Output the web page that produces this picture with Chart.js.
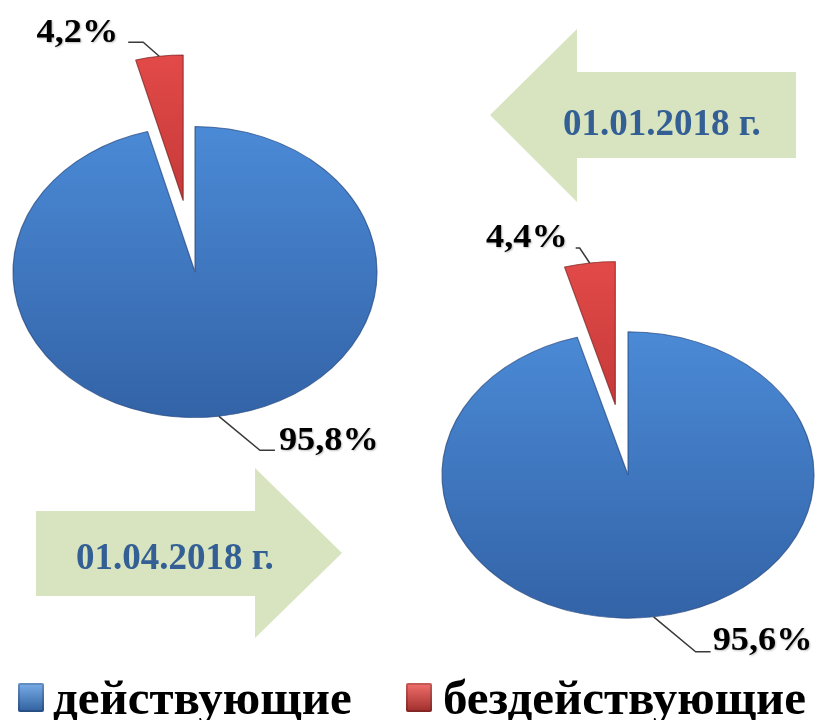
<!DOCTYPE html>
<html><head><meta charset="utf-8">
<script src="https://cdn.jsdelivr.net/npm/chart.js@4.4.0/dist/chart.umd.min.js"></script>
<style>
html,body{margin:0;padding:0;background:#fff}
body{width:818px;height:720px;position:relative;overflow:hidden;font-family:"Liberation Serif","Times New Roman",serif}
canvas.pie{position:absolute;left:0;top:0}
.atext{position:absolute;font-weight:bold;font-size:37px;line-height:1;color:#335f95;white-space:nowrap}
.leg{position:absolute;font-weight:bold;font-size:49px;line-height:1;color:#000;white-space:nowrap}
.sq{position:absolute;width:26px;height:29px;border-radius:2px;box-shadow:inset 0 0 0 2px rgba(0,0,0,0.18)}
</style></head><body>
<svg width="818" height="720" style="position:absolute;left:0;top:0">
  <polygon points="490,115 577,29 577,72 796,72 796,158 577,158 577,202" fill="#d8e4bf"/>
  <polygon points="36,511 255,511 255,468 342,553 255,638 255,596 36,596" fill="#d8e4bf"/>
</svg>
<canvas id="c1" class="pie" width="818" height="720"></canvas>
<canvas id="c2" class="pie" width="818" height="720"></canvas>
<div id="t1" class="atext" style="left:563px;top:104px"></div>
<div id="t2" class="atext" style="left:76px;top:538px"></div>
<div id="legend"></div>
<script>
// ---- data ----
const categories = ['действующие', 'бездействующие'];
const dates = ['01.01.2018 г.', '01.04.2018 г.'];
const valuesJan = [95.8, 4.2];
const valuesApr = [95.6, 4.4];

// ---- styles ----
const blueStops = ['#4b8ad6', '#3363a7'];
const redStops = ['#e24a48', '#a82a2a'];

document.getElementById('t1').textContent = dates[0];
document.getElementById('t2').textContent = dates[1];

// legend
const leg = document.getElementById('legend');
const legPos = [{sq:18, tx:53}, {sq:406, tx:443}];
const sqGrad = ['linear-gradient(#7aaeea,#2f5f9e)', 'linear-gradient(#f2706c,#9e2d2b)'];
categories.forEach((c, i) => {
  const s = document.createElement('div');
  s.className = 'sq';
  s.style.left = legPos[i].sq + 'px';
  s.style.top = '683px';
  s.style.background = sqGrad[i];
  leg.appendChild(s);
  const t = document.createElement('div');
  t.className = 'leg';
  t.style.left = legPos[i].tx + 'px';
  t.style.top = '673px';
  t.textContent = c;
  leg.appendChild(t);
});

function fmt(v){ return v.toFixed(1).replace('.', ',') + '%'; }

function vgrad(chart, stops){
  const a = chart.chartArea;
  if (!a) return stops[1];
  const cy = (a.top + a.bottom) / 2;
  const r = chart.options.radius;
  const g = chart.ctx.createLinearGradient(0, cy - r, 0, cy + r);
  g.addColorStop(0, stops[0]);
  g.addColorStop(1, stops[1]);
  return g;
}

// draws the pie squashed into an ellipse, moving exploded slices out along their bisector
const squash = {
  id: 'squash',
  beforeDatasetsDraw(chart, args, o){
    const a = chart.chartArea;
    const cx = (a.left + a.right) / 2, cy = (a.top + a.bottom) / 2;
    const ctx = chart.ctx;
    ctx.save();
    ctx.translate(cx, cy);
    ctx.scale(1, o.sy);
    ctx.translate(-cx, -cy);
    chart.getDatasetMeta(0).data.forEach((arc, i) => {
      const e = o.explode[i] || 0;
      const mid = (arc.startAngle + arc.endAngle) / 2;
      ctx.save();
      ctx.translate(Math.cos(mid) * e, Math.sin(mid) * e);
      arc.draw(ctx);
      ctx.restore();
    });
    ctx.restore();
    return false;
  }
};

const pctLabels = {
  id: 'pctLabels',
  afterDraw(chart, args, o){
    const ctx = chart.ctx;
    const meta = chart.getDatasetMeta(0);
    const ds = chart.data.datasets[0];
    meta.data.forEach((arc, i) => {
      const p = arc.getProps(['x','y','startAngle','endAngle','outerRadius'], true);
      const mid = (p.startAngle + p.endAngle) / 2;
      const off = o.explode[i] || 0;
      const ax = p.x + Math.cos(mid) * (p.outerRadius + off);
      const ay = p.y + Math.sin(mid) * (p.outerRadius + off) * o.sy;
      const L = o.leaders[i];
      ctx.save();
      ctx.strokeStyle = '#3a3a3a';
      ctx.lineWidth = 1.5;
      ctx.beginPath();
      ctx.moveTo(ax, ay);
      ctx.lineTo(ax + L.p1[0], ay + L.p1[1]);
      ctx.lineTo(ax + L.p2[0], ay + L.p2[1]);
      ctx.stroke();
      ctx.translate(ax + L.t[0], ay + L.t[1]);
      ctx.scale(1.1, 1);
      ctx.font = 'bold 33px "Liberation Serif", serif';
      ctx.fillStyle = '#000';
      ctx.textAlign = L.align;
      ctx.textBaseline = 'alphabetic';
      ctx.shadowColor = 'rgba(0,0,0,0.25)';
      ctx.shadowBlur = 2;
      ctx.shadowOffsetX = 1; ctx.shadowOffsetY = 1;
      ctx.fillText(fmt(ds.data[i]), 0, 0);
      ctx.restore();
    });
  }
};

function makePie(id, values, padding, radius, sy, explode, leaders){
  return new Chart(document.getElementById(id), {
    type: 'pie',
    data: {
      labels: categories,
      datasets: [{
        data: values,
        backgroundColor: (ctx) => vgrad(ctx.chart, ctx.dataIndex === 0 ? blueStops : redStops),
        borderColor: ['rgba(35,70,125,0.7)', 'rgba(120,30,30,0.7)'],
        borderWidth: 1.2
      }]
    },
    options: {
      responsive: false,
      animation: false,
      radius: radius,
      layout: { padding: padding },
      events: [],
      plugins: {
        legend: { display: false },
        tooltip: { enabled: false },
        squash: { sy: sy, explode: explode },
        pctLabels: { sy: sy, explode: explode, leaders: leaders }
      }
    },
    plugins: [squash, pctLabels]
  });
}

makePie('c1', valuesJan, {left: 0, right: 428, top: 0, bottom: 176}, 182, 0.80, [0, 90], [
  {p1: [41, 34], p2: [56, 34], t: [60, 34], align: 'left'},
  {p1: [-16, -14], p2: [-31, -14], t: [-41, -14], align: 'right'}
]);
makePie('c2', valuesApr, {left: 438, right: 0, top: 230, bottom: 0}, 186, 0.77, [0, 92], [
  {p1: [42, 35], p2: [57, 35], t: [59, 33], align: 'left'},
  {p1: [-10, -15], p2: [-14, -15], t: [-22, -16], align: 'right'}
]);
</script>
</body></html>
